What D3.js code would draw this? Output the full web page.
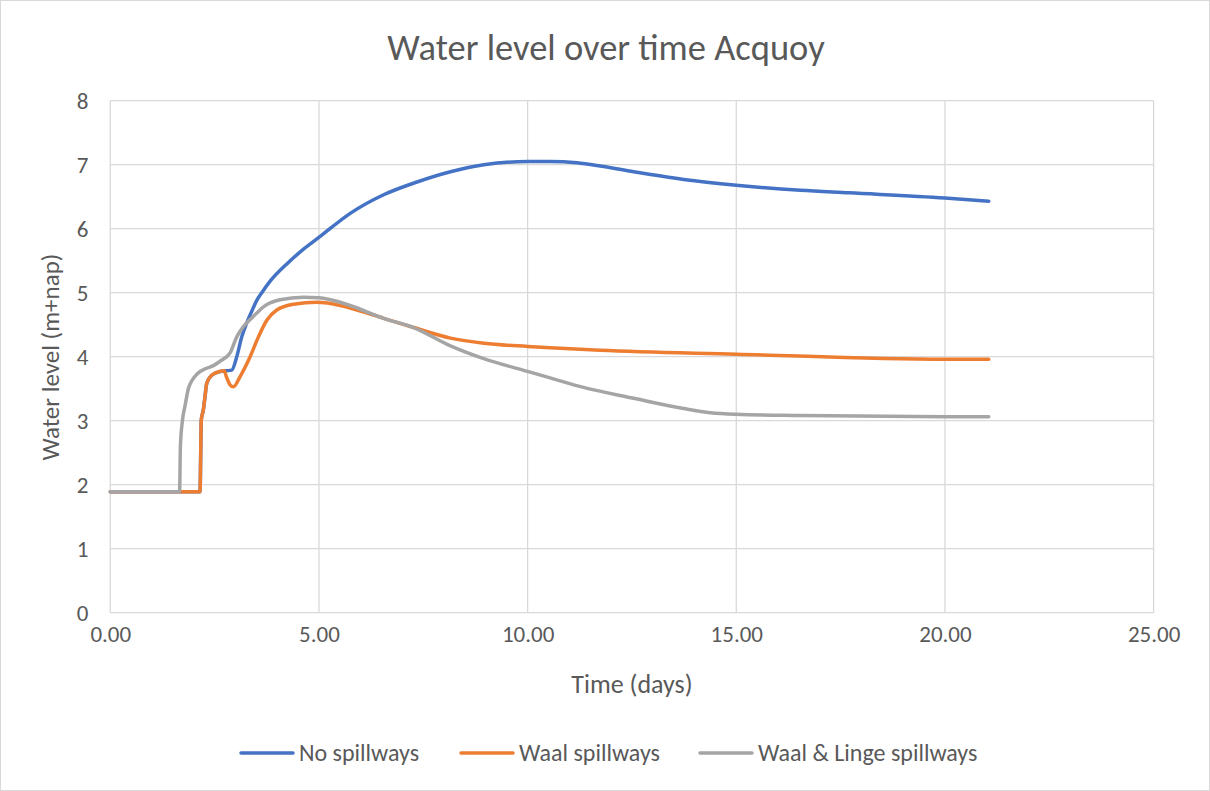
<!DOCTYPE html>
<html>
<head>
<meta charset="utf-8">
<script src="https://cdn.jsdelivr.net/npm/d3@7"></script>
<style>
  html, body { margin: 0; padding: 0; background: #fff; }
  svg { display: block; }
  text { font-family: Carlito, Lato, "Liberation Sans", sans-serif; fill: #595959; }
</style>
</head>
<body>
<svg id="chart" width="1210" height="791"></svg>
<script>
// ---- data (time in days, water level in m+NAP) ----
const seriesNames = ["No spillways", "Waal spillways", "Waal & Linge spillways"];
const seriesColors = ["#4472C4", "#ED7D31", "#A5A5A5"];

const noSpillways = [
  [0,1.89],[2.15,1.89],[2.18,3.01],[2.23,3.17],[2.27,3.38],[2.31,3.58],[2.43,3.71],[2.63,3.77],
  [2.78,3.78],[2.91,3.79],[3.03,4.00],[3.15,4.31],[3.27,4.53],[3.39,4.71],[3.51,4.88],[3.63,5.00],
  [3.83,5.18],[4.23,5.45],[4.63,5.68],[5.03,5.88],[5.75,6.24],[6.55,6.53],[7.35,6.73],[8.15,6.89],
  [8.95,7.00],[10.0,7.05],[10.54,7.05],[11.18,7.03],[11.74,6.98],[12.54,6.89],[13.74,6.77],
  [15.0,6.68],[16.54,6.60],[17.7,6.56],[20.0,6.48],[21.05,6.43]
];
const waalSpillways = [
  [0,1.89],[2.15,1.89],[2.18,3.01],[2.23,3.17],[2.27,3.38],[2.31,3.58],[2.43,3.71],[2.63,3.77],
  [2.73,3.78],[2.78,3.69],[2.87,3.56],[2.95,3.53],[3.11,3.69],[3.35,4.00],[3.55,4.31],[3.75,4.57],
  [3.99,4.73],[4.39,4.82],[4.95,4.85],[5.51,4.80],[5.75,4.76],[6.55,4.60],[7.25,4.46],[8.15,4.29],
  [8.95,4.21],[10.0,4.16],[10.54,4.14],[11.74,4.10],[15.0,4.04],[20.0,3.96],[21.05,3.96]
];
const waalLingeSpillways = [
  [0,1.89],[1.66,1.89],[1.68,2.60],[1.73,3.01],[1.79,3.23],[1.87,3.50],[1.95,3.62],[2.10,3.74],
  [2.31,3.82],[2.47,3.86],[2.63,3.93],[2.87,4.06],[3.03,4.31],[3.19,4.47],[3.43,4.63],[3.67,4.78],
  [4.07,4.89],[4.63,4.93],[5.0,4.92],[5.51,4.85],[5.75,4.80],[6.55,4.60],[7.25,4.46],[8.15,4.17],
  [8.95,3.97],[10.0,3.77],[10.54,3.67],[11.34,3.52],[12.54,3.35],[13.74,3.19],[14.38,3.125],
  [15.0,3.10],[16.54,3.08],[20.0,3.06],[21.05,3.06]
];
const seriesData = [noSpillways, waalSpillways, waalLingeSpillways];

const xTicks = [0, 5, 10, 15, 20, 25];
const yTicks = [0, 1, 2, 3, 4, 5, 6, 7, 8];
const titleText = "Water level over time Acquoy";
const xTitle = "Time (days)";
const yTitle = "Water level (m+nap)";

// ---- layout ----
const W = 1210, H = 791;
const plot = { left: 110.3, right: 1153.6, top: 100.7, bottom: 612.7 };
const FONT = "Carlito, Lato, 'Liberation Sans', sans-serif";

const svg = d3.select("#chart");
svg.append("rect").attr("x", 0.5).attr("y", 0.5).attr("width", W - 1).attr("height", H - 1)
  .attr("fill", "#fff").attr("stroke", "#D9D9D9").attr("stroke-width", 1);

const x = d3.scaleLinear().domain([0, 25]).range([plot.left, plot.right]);
const y = d3.scaleLinear().domain([0, 8]).range([plot.bottom, plot.top]);

// gridlines
const grid = svg.append("g");
grid.selectAll(".hg").data(yTicks).join("line")
  .attr("x1", plot.left).attr("x2", plot.right)
  .attr("y1", d => y(d)).attr("y2", d => y(d))
  .attr("stroke", "#D9D9D9").attr("stroke-width", 1.3);
grid.selectAll(".vg").data(xTicks).join("line")
  .attr("x1", d => x(d)).attr("x2", d => x(d))
  .attr("y1", plot.top).attr("y2", plot.bottom)
  .attr("stroke", "#D9D9D9").attr("stroke-width", 1.3);

// axes (labels only, using d3 axis)
const xAxis = svg.append("g").attr("transform", `translate(0,${plot.bottom})`)
  .call(d3.axisBottom(x).tickValues(xTicks).tickFormat(d3.format(".2f")).tickSize(0).tickPadding(22));
const yAxis = svg.append("g").attr("transform", `translate(${plot.left},0)`)
  .call(d3.axisLeft(y).tickValues(yTicks).tickFormat(d3.format("d")).tickSize(0).tickPadding(22));
[xAxis, yAxis].forEach(a => {
  a.select(".domain").remove();
  a.selectAll("text").attr("font-size", 23).style("fill", "#595959").style("font-family", FONT);
});
xAxis.selectAll("text").attr("dy", "0.32em");

// lines
const line = d3.line().x(d => x(d[0])).y(d => y(d[1])).curve(d3.curveMonotoneX);
svg.append("g").selectAll("path").data(seriesData).join("path")
  .attr("d", d => line(d))
  .attr("fill", "none")
  .attr("stroke", (d, i) => seriesColors[i])
  .attr("stroke-width", 3.5)
  .attr("stroke-linejoin", "round")
  .attr("stroke-linecap", "round");

// titles
svg.append("text").attr("x", 606).attr("y", 47).attr("dy", "0.35em")
  .attr("text-anchor", "middle").attr("font-size", 36.5).attr("font-weight", 300).text(titleText);
svg.append("text").attr("x", 632).attr("y", 684).attr("dy", "0.35em")
  .attr("text-anchor", "middle").attr("font-size", 26).text(xTitle);
svg.append("text").attr("transform", `translate(50,357) rotate(-90)`).attr("dy", "0.35em")
  .attr("text-anchor", "middle").attr("font-size", 25).text(yTitle);

// legend
const legendX = [241, 461, 700];
const lg = svg.append("g");
seriesNames.forEach((name, i) => {
  const g = lg.append("g").attr("transform", `translate(${legendX[i]},753)`);
  g.append("line").attr("x1", 0).attr("x2", 52).attr("y1", 0).attr("y2", 0)
    .attr("stroke", seriesColors[i]).attr("stroke-width", 3.5).attr("stroke-linecap", "round");
  g.append("text").attr("x", 58).attr("dy", "0.35em").attr("font-size", 24).text(name);
});
</script>
</body>
</html>
